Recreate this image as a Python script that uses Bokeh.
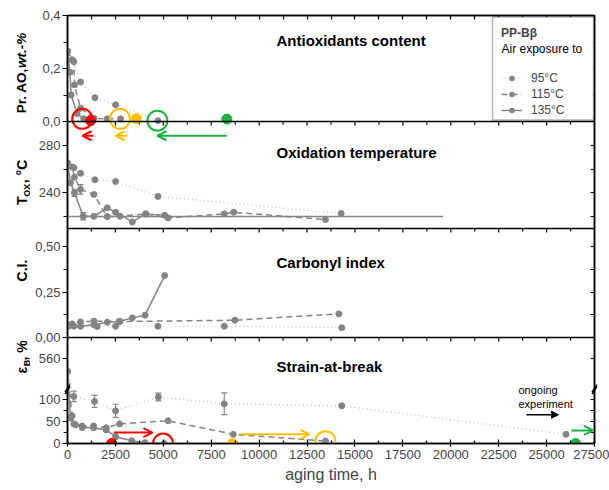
import math
from bokeh.plotting import figure
from bokeh.layouts import row
from bokeh.models import (Range1d, LinearAxis, FixedTicker, Legend, LegendItem, Span,
                          Label, Arrow, OpenHead, NormalHead, Whisker, TeeHead, BoxAnnotation,
                          ColumnDataSource, CustomJSTransform)
from bokeh.transform import transform
from bokeh.embed import file_html
from bokeh.resources import INLINE

FONT = "Liberation Sans"
GRAY = "#848484"
DOT_GRAY = "#bcbcbc"
RED = "#ff0000"
YEL = "#ffc000"
GRN = "#17b341"

# ---------------- data ----------------
x_ticks = [0, 2500, 5000, 7500, 10000, 12500, 15000, 17500, 20000, 22500, 25000, 27500]
x_minor = [1250, 3750, 6250, 8750, 11250, 13750, 16250, 18750, 21250, 23750, 26250]

# Antioxidant content (wt.-%)
ao_ticks = [0, 0.2, 0.4]
ao_labels = ["0,0", "0,2", "0,4"]
ao_minor = [0.1, 0.3]
ao_95_t = [0, 245, 680, 1430, 2510, 4720]
ao_95 = [0.265, 0.233, 0.149, 0.090, 0.063, 0.003]
ao_115_t = [0, 330, 365, 680, 1380, 2075, 2770]
ao_115 = [0.265, 0.226, 0.138, 0.050, 0.012, 0.010, 0.010]
ao_135_t = [0, 130, 190, 500, 850]
ao_135 = [0.265, 0.186, 0.100, 0.030, 0.010]
ao_circle_t = [770, 2740, 4690]
ao_circle_v = [0.010, 0.010, 0.003]
ao_dot_t = [1200, 3590, 8315]
ao_dot_v = [0.003, 0.011, 0.009]
ao_arrow_from = [1360, 3120, 8315]
ao_arrow_to = [785, 2510, 4690]
ao_arrow_T = 288
ms_colors = [RED, YEL, GRN]

# Oxidation temperature (°C)
tox_ticks = [240, 280]
tox_labels = ["240", "280"]
tox_minor = [220, 260]
tox_95_t = [0, 330, 680, 1430, 2510, 4720, 14280]
tox_95 = [265, 261, 256.4, 251, 249.6, 237, 222.6]
tox_115_t = [0, 245, 365, 680, 1377, 2075, 2740, 4080, 5250, 8180, 8670, 13460]
tox_115 = [265, 261.7, 253.2, 242.9, 238.6, 220, 220.3, 222.3, 218.9, 222.3, 223.7, 217.5]
tox_135_t = [0, 157, 365, 820, 1377, 2075, 2510, 3380, 4080, 5070]
tox_135 = [265, 248.4, 240, 220.3, 220.3, 227.4, 223.7, 215.5, 222.3, 221.2]
tox_err_t = [365, 680, 820]
tox_err_v = [240, 242.9, 220.3]
tox_err = [3, 4, 3]
tox_ref_t = [0, 19600]
tox_ref = [220, 220]

# Carbonyl index
ci_ticks = [0, 0.25, 0.5]
ci_labels = ["0,00", "0,25", "0,50"]
ci_minor = [0.125, 0.375]
ci_95_t = [0, 330, 1550, 2510, 4720, 8180, 14310]
ci_95 = [0.060, 0.062, 0.060, 0.062, 0.062, 0.062, 0.054]
ci_115_t = [0, 245, 680, 1377, 2740, 8735, 14160]
ci_115 = [0.060, 0.075, 0.086, 0.090, 0.088, 0.095, 0.130]
ci_135_t = [0, 160, 680, 1377, 2075, 2690, 3380, 4045, 5070]
ci_135 = [0.060, 0.070, 0.062, 0.070, 0.084, 0.088, 0.108, 0.123, 0.341]

# Strain at break (%), broken axis
eb_ticks = [0, 50, 100, 560]
eb_labels = ["0", "50", "100", "560"]
eb_minor = [25, 75]
eb_95_t = [0, 330, 1410, 2510, 4740, 8180, 14310, 26010]
eb_95 = [452, 108, 96.5, 75, 106.7, 91, 86.6, 21]
eb_95_err = [0, 12, 14, 15, 9, 25, 0, 0]
eb_115_t = [0, 245, 330, 770, 1360, 2020, 2720, 5250, 8650, 13460]
eb_115 = [452, 63.5, 45, 40, 40, 36, 45, 52, 21, 5.8]
eb_135_t = [0, 157, 420, 770, 1360, 2020, 2510, 3350, 4045, 5040]
eb_135 = [452, 58, 42.7, 36.5, 36, 31, 15.7, 6.5, 1.8, 0.5]
eb_circle_t = [4985, 13460]
eb_circle_v = [0, 5]
eb_circle_c = [RED, YEL]
eb_dot_t = [2300, 8610, 26510]
eb_dot_v = [0, 0, 0]
eb_arrow_from = [2420, 9060, 26300]
eb_arrow_to = [4430, 12620, 27420]
eb_arrow_v = [25, 21, 30]
ongoing_from, ongoing_to, ongoing_v = 23950, 25620, 66

# ---------------- layout constants ----------------
W, H = 609, 490
TW = 30                          # width of the strip holding the y titles
LEFT, RIGHT, TOP, BOTTOM = 67, 15, 15, 47
FH = H - TOP - BOTTOM            # frame height (428 px)
X_MAX = 27500
BANDS = {"ao": (322, 428, 0.0, 0.4), "tox": (215, 322, 210.0, 300.0),
         "ci": (106, 215, 0.0, 0.6), "eb": (0, 106, 0.0, 243.0)}
EB_BREAK, EB_U0, EB_K = 124.0, 300.0, (194.4 - 124.0) / 260.0


def band_range(key):
    b0, b1, d0, d1 = BANDS[key]
    s = (d1 - d0) / (b1 - b0)
    return Range1d(d0 - b0 * s, d0 + (FH - b0) * s)


def to_px(key, v):
    b0, b1, d0, d1 = BANDS[key]
    return round(b0 + (v - d0) * (b1 - b0) / (d1 - d0), 3)


def eb_disp(v):
    return v if v <= EB_BREAK else EB_BREAK + (v - EB_U0) * EB_K


brk = CustomJSTransform(v_func=f"""
const out = new Float64Array(xs.length);
for (let i = 0; i < xs.length; i++) {{
  const v = xs[i];
  out[i] = v <= {EB_BREAK} ? v : {EB_BREAK} + (v - {EB_U0}) * {EB_K};
}}
return out;
""")

p = figure(width=W - TW, height=H, x_range=Range1d(0, X_MAX), y_range=Range1d(0, FH),
           output_backend="svg", toolbar_location=None,
           min_border_left=LEFT - TW, min_border_right=RIGHT, min_border_top=TOP,
           min_border_bottom=BOTTOM)
p.extra_y_ranges = {k: band_range(k) for k in BANDS}
p.outline_line_color = "black"
p.outline_line_width = 1.5
p.grid.visible = False
p.background_fill_color = "white"
p.border_fill_color = "white"

# ---------- axes ----------
maj, minr, over = [], [], {}
for key, tk, lb, mn in [("ao", ao_ticks, ao_labels, ao_minor),
                        ("tox", tox_ticks, tox_labels, tox_minor),
                        ("ci", ci_ticks, ci_labels, ci_minor),
                        ("eb", eb_ticks, eb_labels, eb_minor)]:
    for v, s in zip(tk, lb):
        y = to_px(key, eb_disp(v) if key == "eb" else v)
        if y not in over:
            maj.append(y)
            over[y] = s
    for v in mn:
        minr.append(to_px(key, v))

ya = p.yaxis[0]
ya.ticker = FixedTicker(ticks=maj, minor_ticks=minr)
ya.major_label_overrides = over
ya.major_tick_out = 5
ya.major_tick_in = 0
ya.minor_tick_out = 4
ya.minor_tick_in = 0
ya.axis_line_width = 1.5
ya.major_tick_line_width = 1.2
ya.minor_tick_line_width = 1.2
ya.major_label_standoff = 2
ya.major_label_text_font = FONT
ya.major_label_text_font_size = "13px"

ra = LinearAxis(ticker=FixedTicker(ticks=[], minor_ticks=maj + minr),
                minor_tick_in=4, minor_tick_out=0, axis_line_width=1.5, minor_tick_line_width=1.2)
p.add_layout(ra, "right")
ta = LinearAxis(ticker=FixedTicker(ticks=[], minor_ticks=x_ticks + x_minor),
                minor_tick_in=4, minor_tick_out=0, axis_line_width=1.5, minor_tick_line_width=1.2)
p.add_layout(ta, "above")

xa = p.below[0]
xa.ticker = FixedTicker(ticks=x_ticks, minor_ticks=x_minor)
xa.major_tick_in = 4
xa.major_tick_out = 3
xa.minor_tick_in = 3
xa.minor_tick_out = 0
xa.axis_line_width = 1.5
xa.major_tick_line_width = 1.2
xa.minor_tick_line_width = 1.2
xa.major_label_standoff = 3
xa.major_label_text_font = FONT
xa.major_label_text_font_size = "13px"
xa.axis_label = "aging time, h"
xa.axis_label_text_font = FONT
xa.axis_label_text_font_style = "normal"
xa.axis_label_text_font_size = "16px"
xa.axis_label_standoff = 4

for key in ("tox", "ci", "eb"):
    bnd = BANDS[key][1]
    p.add_layout(Span(location=bnd, dimension="width", line_color="black", line_width=1.5))
    p.segment(x0=x_ticks, y0=[bnd] * len(x_ticks), x1=x_ticks, y1=[bnd - 4] * len(x_ticks),
              line_color="black", line_width=1.2)
    p.segment(x0=x_minor, y0=[bnd] * len(x_minor), x1=x_minor, y1=[bnd - 3] * len(x_minor),
              line_color="black", line_width=1.2)


# ---------- helpers ----------
def series(key, t, v, style, tf=None):
    src = ColumnDataSource(dict(t=t, v=v))
    yspec = transform("v", tf) if tf is not None else "v"
    kw = dict(source=src, y_range_name=key)
    if style == "dot":
        ln = p.line("t", yspec, line_color=DOT_GRAY, line_width=1.2, line_dash="1 3", **kw)
    elif style == "dash":
        ln = p.line("t", yspec, line_color=GRAY, line_width=1.5, line_dash="6 4", **kw)
    else:
        ln = p.line("t", yspec, line_color=GRAY, line_width=1.5, **kw)
    sc = p.scatter("t", yspec, size=6, color=GRAY, **kw)
    return ln, sc


def whiskers(key, t, v, e):
    src = ColumnDataSource(dict(base=[a for a, s in zip(t, e) if s > 0],
                                lower=[b - s for b, s in zip(v, e) if s > 0],
                                upper=[b + s for b, s in zip(v, e) if s > 0]))
    p.add_layout(Whisker(source=src, base="base", lower="lower", upper="upper", y_range_name=key,
                         line_color=GRAY, line_width=1.2,
                         upper_head=TeeHead(size=6, line_color=GRAY, line_width=1.2),
                         lower_head=TeeHead(size=6, line_color=GRAY, line_width=1.2)))


def text(fig, x, y, s, size="15px", style="bold", angle=0.0, align="left"):
    fig.add_layout(Label(x=x, y=y, text=s, text_font=FONT, text_font_style=style,
                         text_font_size=size, text_align=align, text_baseline="middle",
                         angle=angle, text_color="black"))


def px_x(px):
    return (px - LEFT) / (W - LEFT - RIGHT) * X_MAX


def px_y(px):
    return TOP + FH - px


TITLE_X = px_x(276)
VERT = math.pi / 2

# ---------- panel 1: antioxidants ----------
p.add_layout(BoxAnnotation(left=px_x(492), right=px_x(593), bottom=px_y(119.5), top=px_y(16.5),
                           fill_color="white", fill_alpha=1, line_color="black", line_width=1.5))
l95, s95 = series("ao", ao_95_t, ao_95, "dot")
l115, s115 = series("ao", ao_115_t, ao_115, "dash")
l135, s135 = series("ao", ao_135_t, ao_135, "solid")
p.scatter(ao_dot_t, ao_dot_v, size=10, color=ms_colors, y_range_name="ao")
p.scatter(ao_circle_t, ao_circle_v, size=20, fill_color=None, line_color=ms_colors,
          line_width=2, y_range_name="ao")
text(p, TITLE_X, px_y(40), "Antioxidants content")

legend = Legend(items=[LegendItem(label="95°C", renderers=[l95, s95]),
                       LegendItem(label="115°C", renderers=[l115, s115]),
                       LegendItem(label="135°C", renderers=[l135, s135])],
                location="top_right", title="PP-Bβ",
                title_text_font=FONT, title_text_font_style="bold", title_text_font_size="12px",
                title_standoff=31, padding=9, spacing=2, margin=2,
                glyph_height=12, glyph_width=21, label_height=12, label_width=52,
                label_standoff=9, label_text_font=FONT, label_text_font_size="12px",
                border_line_alpha=0, background_fill_alpha=0)
p.add_layout(legend)
text(p, px_x(501), px_y(48), "Air exposure to", size="12px", style="normal")

# ---------- panel 2: oxidation temperature ----------
p.line(tox_ref_t, tox_ref, line_color=GRAY, line_width=1.5, y_range_name="tox")
series("tox", tox_95_t, tox_95, "dot")
series("tox", tox_115_t, tox_115, "dash")
series("tox", tox_135_t, tox_135, "solid")
whiskers("tox", tox_err_t, tox_err_v, tox_err)
for a, b, c in zip(ao_arrow_from, ao_arrow_to, ms_colors):
    p.add_layout(Arrow(x_start=a, y_start=ao_arrow_T, x_end=b, y_end=ao_arrow_T, y_range_name="tox",
                       line_color=c, line_width=2,
                       end=OpenHead(size=9, line_color=c, line_width=2)))
text(p, TITLE_X, px_y(152), "Oxidation temperature")

# ---------- panel 3: carbonyl index ----------
series("ci", ci_95_t, ci_95, "dot")
series("ci", ci_115_t, ci_115, "dash")
series("ci", ci_135_t, ci_135, "solid")
text(p, TITLE_X, px_y(262), "Carbonyl index")

# ---------- panel 4: strain at break ----------
series("eb", eb_95_t, eb_95, "dot", brk)
series("eb", eb_115_t, eb_115, "dash", brk)
series("eb", eb_135_t, eb_135, "solid", brk)
whiskers("eb", eb_95_t, eb_95, [e if v <= EB_BREAK else 0 for v, e in zip(eb_95, eb_95_err)])
p.scatter(eb_dot_t, eb_dot_v, size=10, color=ms_colors, y_range_name="eb")
p.scatter(eb_circle_t, eb_circle_v, size=20, fill_color=None, line_color=eb_circle_c,
          line_width=2, y_range_name="eb")
for a, b, y, c in zip(eb_arrow_from, eb_arrow_to, eb_arrow_v, ms_colors):
    p.add_layout(Arrow(x_start=a, y_start=y, x_end=b, y_end=y, y_range_name="eb",
                       line_color=c, line_width=2,
                       end=OpenHead(size=9, line_color=c, line_width=2)))
p.add_layout(Arrow(x_start=ongoing_from, y_start=ongoing_v, x_end=ongoing_to, y_end=ongoing_v,
                   y_range_name="eb", line_color="black", line_width=1.5,
                   end=NormalHead(size=7, fill_color="black", line_color="black")))
text(p, px_x(518), px_y(389.3), "ongoing", size="11px", style="normal")
text(p, px_x(518), px_y(403.7), "experiment", size="11px", style="normal")
text(p, TITLE_X, px_y(366), "Strain-at-break")
brk_r = p.scatter([0, 0, X_MAX, X_MAX], [EB_BREAK - 2.3, EB_BREAK + 2.3] * 2, marker="dash",
                  size=9, angle=1.0, line_color="black", line_width=1.5, y_range_name="eb")
brk_r.level = "overlay"

# ---------- strip with the y titles ----------
t = figure(width=TW, height=H, x_range=Range1d(0, TW), y_range=Range1d(0, H),
           output_backend="svg", toolbar_location=None, x_axis_location=None,
           y_axis_location=None, min_border=0)
t.outline_line_color = None
t.grid.visible = False
t.background_fill_color = "white"
t.border_fill_color = "white"
text(t, 21, H - 112, "Pr. AO,", size="13.5px", angle=VERT)
text(t, 21, H - 60, "wt.-%", size="13.5px", style="bold italic", angle=VERT)
text(t, 21, H - 217, "T", size="14px", angle=VERT)
text(t, 26, H - 207.5, "OX", size="9px", angle=VERT)
text(t, 21, H - 192, ", °C", size="14px", angle=VERT)
text(t, 21, H - 292, "C.I.", size="14px", angle=VERT, align="center")
text(t, 21, H - 410, "ε", size="14px", angle=VERT)
text(t, 26, H - 401.5, "B", size="9px", angle=VERT)
text(t, 21, H - 395, ", %", size="14px", angle=VERT)

layout = row(t, p, spacing=0)
open("out.html", "w").write(file_html(layout, INLINE))
